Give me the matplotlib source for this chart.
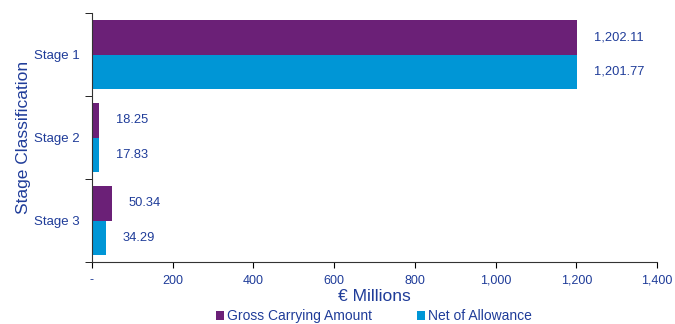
import matplotlib.pyplot as plt
import numpy as np

stages = ['Stage 1', 'Stage 2', 'Stage 3']
gross = [1202.11, 18.25, 50.34]
net = [1201.77, 17.83, 34.29]
ticks = [0, 200, 400, 600, 800, 1000, 1200, 1400]
tick_labels = ['-', '200', '400', '600', '800', '1,000', '1,200', '1,400']

txt = '#1F3C99'
purple = '#6B2077'
blue = '#0096D6'

plt.rcParams['font.family'] = ['Liberation Sans', 'DejaVu Sans']

fig = plt.figure(figsize=(6.75, 3.24), dpi=100)
ax = fig.add_axes([92 / 675, 1 - 262 / 324, 565 / 675, 249 / 324])

y = np.arange(len(stages))
h = 0.415
b1 = ax.barh(y - h / 2, gross, height=h, color=purple, label='Gross Carrying Amount')
b2 = ax.barh(y + h / 2, net, height=h, color=blue, label='Net of Allowance')

for bars, vals in ((b1, gross), (b2, net)):
    ax.bar_label(bars, labels=[f'{v:,.2f}' for v in vals], padding=12,
                 color=txt, fontsize=9.3)

ax.set_xlim(0, 1400)
ax.set_ylim(2.5, -0.5)
ax.set_xticks(ticks)
ax.set_xticklabels(tick_labels)
ax.set_yticks(y)
ax.set_yticklabels(stages)
ax.set_yticks([-0.5, 0.5, 1.5, 2.5], minor=True)
ax.tick_params(axis='y', which='major', length=0, pad=9, labelsize=9.5, labelcolor=txt)
ax.tick_params(axis='y', which='minor', length=5, direction='out')
ax.tick_params(axis='x', length=4, direction='out', labelsize=9, labelcolor=txt, pad=5)

for s in ('top', 'right'):
    ax.spines[s].set_visible(False)
ax.spines['left'].set_color('#333333')
ax.spines['bottom'].set_color('#333333')

ax.set_xlabel('€ Millions', color=txt, fontsize=12.5, labelpad=2)
ax.set_ylabel('Stage Classification', color=txt, fontsize=12.5, labelpad=2)

# legend right at the bottom edge
fig.legend(loc='lower left', bbox_to_anchor=(216 / 675, 1 / 324), ncol=2,
           frameon=False, fontsize=10, labelcolor=txt, handlelength=0.6,
           handleheight=0.6, handletextpad=0.2, columnspacing=3.2,
           borderaxespad=0, borderpad=0)

fig.savefig('out.png', dpi=100)
